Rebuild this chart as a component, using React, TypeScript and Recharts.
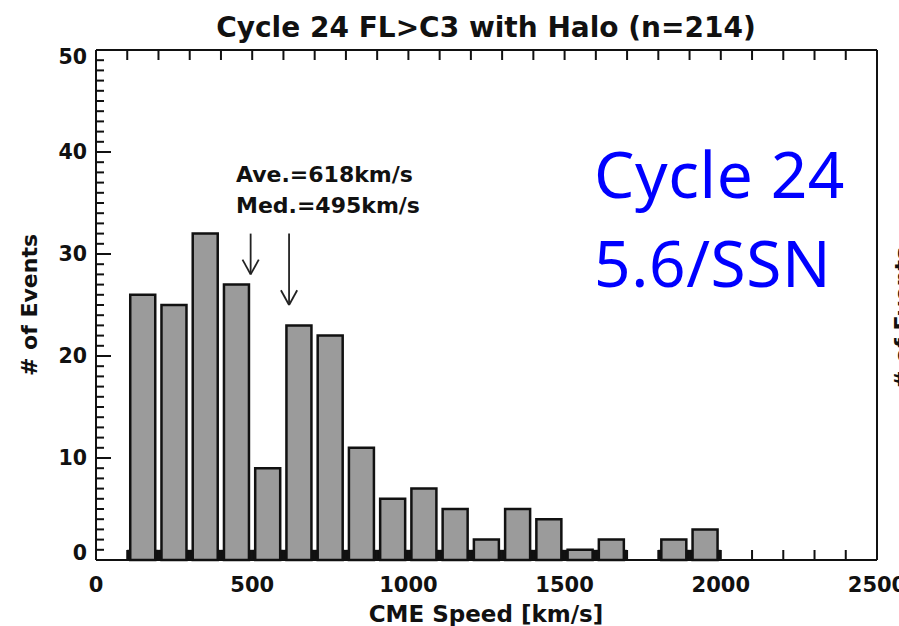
import { BarChart, Bar, XAxis, YAxis, ReferenceLine } from "recharts";

// histogram bins (100 km/s wide), centre speed of each bin
const binCenters = [150, 250, 350, 450, 550, 650, 750, 850, 950, 1050, 1150, 1250, 1350, 1450, 1550, 1650, 1750, 1850, 1950];
const eventCounts = [26, 25, 32, 27, 9, 23, 22, 11, 6, 7, 5, 2, 5, 4, 1, 2, 0, 2, 3];

const speedLabels = [0, 500, 1000, 1500, 2000, 2500];
const countLabels = [0, 10, 20, 30, 40, 50];

const averageSpeed = 618;
const medianSpeed = 495;

const W = 899;
const H = 626;
const INK = "#111";
const FONT = "'DejaVu Sans', sans-serif";

const data = binCenters.map((speed, i) => ({
  speed,
  count: eventCounts[i],
  base: eventCounts[i] > 0 ? 1 : 0,
}));

// minor ticks every 100 km/s and every event
const speedTicks: number[] = [];
for (let v = 0; v <= 2500; v += 100) speedTicks.push(v);
const countTicks: number[] = [];
for (let v = 0; v <= 50; v += 1) countTicks.push(v);

const BottomTick = (props: any) => {
  const { x, y, payload } = props;
  const v = payload.value;
  return (
    <g>
      <line x1={x} y1={y} x2={x} y2={y - 10} stroke={INK} strokeWidth={2} />
      {speedLabels.includes(v) && (
        <text x={x} y={y + 32} textAnchor="middle" fontFamily={FONT} fontWeight="bold" fontSize={21} fill={INK}>
          {v}
        </text>
      )}
    </g>
  );
};

const TopTick = (props: any) => {
  const { x, y } = props;
  return <line x1={x} y1={y} x2={x} y2={y + 10} stroke={INK} strokeWidth={2} />;
};

const LeftTick = (props: any) => {
  const { x, y, payload } = props;
  const v = payload.value;
  const major = countLabels.includes(v);
  const shift = v === 0 ? -7 : v === 50 ? 7 : 0;
  return (
    <g>
      <line x1={x} y1={y} x2={x + (major ? 15 : 8)} y2={y} stroke={INK} strokeWidth={2} />
      {major && (
        <text x={x - 9} y={y + shift} dy="0.36em" textAnchor="end" fontFamily={FONT} fontWeight="bold" fontSize={20.5} fill={INK}>
          {v}
        </text>
      )}
    </g>
  );
};

const RightTick = (props: any) => {
  const { x, y, payload } = props;
  const major = countLabels.includes(payload.value);
  return <line x1={x} y1={y} x2={x - (major ? 15 : 8)} y2={y} stroke={INK} strokeWidth={2} />;
};

// vertical arrow pointing down, shaft top at 32 events
const arrow = (speed: number, tip: number) => [
  <ReferenceLine key={`s${speed}`} segment={[{ x: speed, y: 32 }, { x: speed, y: tip }]} stroke="#222" strokeWidth={1.8} />,
  <ReferenceLine key={`l${speed}`} segment={[{ x: speed - 26, y: tip + 1.45 }, { x: speed, y: tip }]} stroke="#222" strokeWidth={1.8} />,
  <ReferenceLine key={`r${speed}`} segment={[{ x: speed + 26, y: tip + 1.45 }, { x: speed, y: tip }]} stroke="#222" strokeWidth={1.8} />,
];

const axisLine = { stroke: INK, strokeWidth: 2 };

export default function App() {
  return (
    <div style={{ position: "absolute", left: 0, top: 0, width: W, height: H, background: "#fff", overflow: "hidden" }}>
      <BarChart width={W} height={H} data={data} margin={{ top: 40, right: 12, bottom: 26, left: 36 }}>
        <XAxis
          dataKey="speed"
          type="number"
          domain={[0, 2500]}
          ticks={speedTicks}
          interval={0}
          height={40}
          tickSize={0}
          tickMargin={0}
          tick={BottomTick}
          axisLine={axisLine}
        />
        <XAxis
          xAxisId="top"
          orientation="top"
          dataKey="speed"
          type="number"
          domain={[0, 2500]}
          ticks={speedTicks}
          interval={0}
          height={10}
          tickSize={0}
          tickMargin={0}
          tick={TopTick}
          axisLine={axisLine}
        />
        <YAxis
          type="number"
          domain={[0, 50]}
          ticks={countTicks}
          interval={0}
          width={60}
          tickSize={0}
          tickMargin={0}
          tick={LeftTick}
          axisLine={axisLine}
        />
        <YAxis
          yAxisId="right"
          orientation="right"
          type="number"
          domain={[0, 50]}
          ticks={countTicks}
          interval={0}
          width={10}
          tickSize={0}
          tickMargin={0}
          tick={RightTick}
          axisLine={axisLine}
        />
        {/* dark footing under each filled bin */}
        <Bar xAxisId="top" dataKey="base" barSize={31} fill={INK} isAnimationActive={false} />
        <Bar dataKey="count" barSize={25} fill="#9b9b9b" stroke={INK} strokeWidth={2.5} isAnimationActive={false} />
        {arrow(medianSpeed, 28)}
        {arrow(averageSpeed, 25)}
      </BarChart>

      <svg width={W} height={H} style={{ position: "absolute", left: 0, top: 0, pointerEvents: "none" }}>
        <g fontFamily={FONT} fontWeight="bold" fill={INK}>
          <text x={486} y={37} textAnchor="middle" fontSize={28}>
            Cycle 24 FL&gt;C3 with Halo (n=214)
          </text>
          <text x={486} y={622} textAnchor="middle" fontSize={23}>
            CME Speed [km/s]
          </text>
          <text transform="translate(37,305) rotate(-90)" textAnchor="middle" fontSize={22}>
            # of Events
          </text>
          <text x={236} y={182} fontSize={22}>
            Ave.=618km/s
          </text>
          <text x={236} y={213} fontSize={22}>
            Med.=495km/s
          </text>
          <text transform="translate(910,318) rotate(-90)" textAnchor="middle" fontSize={22}>
            # of Events
          </text>
        </g>
        <g fontFamily="'Noto Sans', sans-serif" fill="#0000ff" fontSize={64} letterSpacing={0.6}>
          <text x={594} y={198}>Cycle 24</text>
          <text x={594} y={287}>5.6/SSN</text>
        </g>
      </svg>
    </div>
  );
}
